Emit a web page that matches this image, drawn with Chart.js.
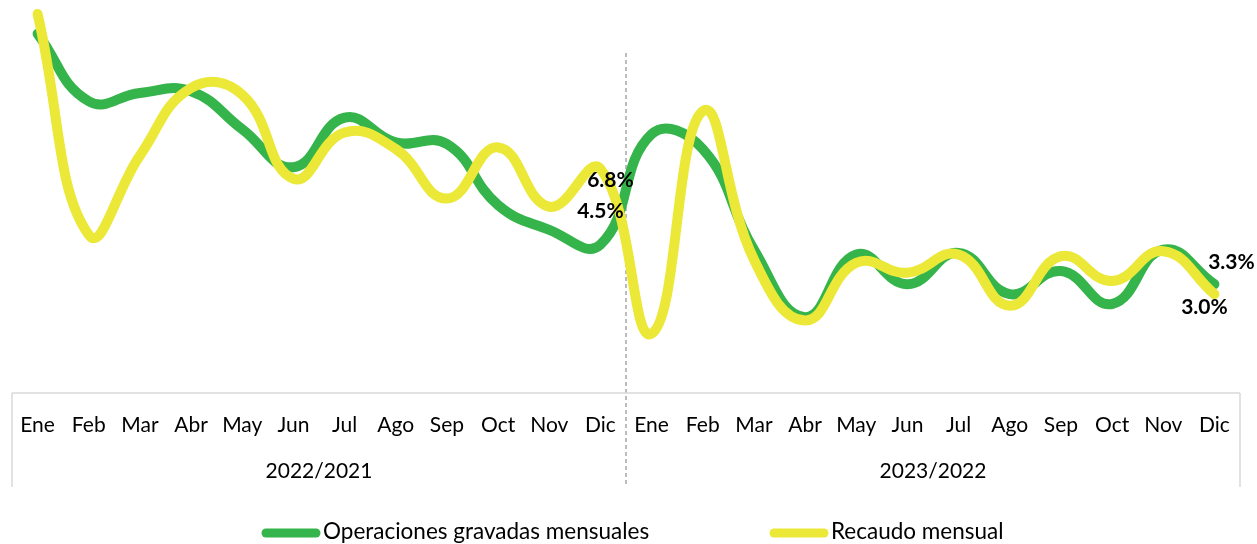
<!DOCTYPE html>
<html>
<head>
<meta charset="utf-8">
<script src="https://cdn.jsdelivr.net/npm/chart.js@4"></script>
<style>
  body { margin: 0; background: #fff; }
  canvas { display: block; }
</style>
</head>
<body>
<canvas id="recaudoChart" width="1257" height="544"></canvas>
<script>
// Meses y periodos del eje horizontal
const months = ['Ene', 'Feb', 'Mar', 'Abr', 'May', 'Jun', 'Jul', 'Ago', 'Sep', 'Oct', 'Nov', 'Dic'];
const periods = ['2022/2021', '2023/2022'];

// Variación anual (%) de cada serie
const operaciones = [10.9, 8.85, 9.1, 9.15, 8.0, 6.85, 8.35, 7.6, 7.55, 5.7, 4.95, 4.5,
                     7.85, 7.4, 4.35, 2.3, 4.2, 3.3, 4.25, 3.0, 3.7, 2.7, 4.35, 3.3];
const recaudo = [11.5, 4.8, 7.2, 9.25, 9.05, 6.5, 7.9, 7.4, 5.9, 7.45, 5.65, 6.8,
                 1.8, 8.55, 4.05, 2.2, 3.95, 3.65, 4.2, 2.65, 4.15, 3.4, 4.3, 3.0];

// Puntos que llevan etiqueta de valor
const labeledPoints = [11, 23];

const labels = [];
periods.forEach(p => months.forEach(m => labels.push(m + ' ' + p)));

const GREEN = '#34b44a';
const YELLOW = '#ebe838';
const FONT = 'Lato, "Open Sans", sans-serif';

// Eje de dos niveles, separador punteado, etiquetas y leyenda
const decorations = {
    id: 'decorations',
    beforeDatasetsDraw(chart) {
        const ctx = chart.ctx;
        const area = chart.chartArea;
        const x = chart.scales.x;
        const mid = (x.getPixelForValue(11) + x.getPixelForValue(12)) / 2;
        ctx.save();
        ctx.strokeStyle = '#a6a6a6';
        ctx.lineWidth = 1.5;
        ctx.setLineDash([4, 3]);
        ctx.beginPath();
        ctx.moveTo(mid, 53);
        ctx.lineTo(mid, area.bottom + 94);
        ctx.stroke();
        ctx.restore();
    },
    afterDraw(chart) {
        const ctx = chart.ctx;
        const area = chart.chartArea;
        const x = chart.scales.x;
        const y = chart.scales.y;
        const mid = (x.getPixelForValue(11) + x.getPixelForValue(12)) / 2;
        const boxBottom = area.bottom + 94;

        ctx.save();
        ctx.strokeStyle = '#d9d9d9';
        ctx.lineWidth = 1.5;
        ctx.beginPath();
        ctx.moveTo(area.left, area.bottom);
        ctx.lineTo(area.right, area.bottom);
        [area.left, area.right].forEach(px => {
            ctx.moveTo(px, area.bottom);
            ctx.lineTo(px, boxBottom);
        });
        ctx.stroke();

        ctx.fillStyle = '#000';
        ctx.font = '21px ' + FONT;
        ctx.textAlign = 'center';
        ctx.textBaseline = 'middle';
        labels.forEach((l, i) => {
            ctx.fillText(months[i % 12], x.getPixelForValue(i), area.bottom + 32);
        });
        ctx.fillText(periods[0], (area.left + mid) / 2, area.bottom + 78);
        ctx.fillText(periods[1], (mid + area.right) / 2, area.bottom + 78);

        // Etiquetas de valor
        ctx.font = 'bold 21px ' + FONT;
        const fmt = v => v.toFixed(1) + '%';
        labeledPoints.forEach(i => {
            const px = x.getPixelForValue(i);
            const gy = y.getPixelForValue(operaciones[i]);
            const yy = y.getPixelForValue(recaudo[i]);
            if (i === 11) {
                ctx.fillText(fmt(operaciones[i]), px, gy - 33);
                ctx.fillText(fmt(recaudo[i]), px + 10, yy + 11);
            } else {
                ctx.fillText(fmt(operaciones[i]), px + 17, gy - 22);
                ctx.fillText(fmt(recaudo[i]), px - 10, yy + 13);
            }
        });

        // Leyenda
        ctx.font = '22.5px ' + FONT;
        ctx.textAlign = 'left';
        ctx.lineCap = 'round';
        ctx.lineWidth = 9;
        const legend = [[262, 0], [770, 1]];
        legend.forEach(([lx, di]) => {
            const ds = chart.data.datasets[di];
            ctx.strokeStyle = ds.borderColor;
            ctx.beginPath();
            ctx.moveTo(lx + 4, 533);
            ctx.lineTo(lx + 54, 533);
            ctx.stroke();
            ctx.fillStyle = '#000';
            ctx.fillText(ds.label, lx + 61, 532);
        });
        ctx.restore();
    }
};

new Chart(document.getElementById('recaudoChart'), {
    type: 'line',
    data: {
        labels: labels,
        datasets: [
            {
                label: 'Operaciones gravadas mensuales',
                data: operaciones,
                borderColor: GREEN,
                borderWidth: 10,
                order: 1
            },
            {
                label: 'Recaudo mensual',
                data: recaudo,
                borderColor: YELLOW,
                borderWidth: 10,
                order: 0
            }
        ]
    },
    options: {
        responsive: false,
        animation: false,
        layout: { padding: { left: 12, right: 17, top: 4, bottom: 151 } },
        elements: {
            line: { tension: 0.45, borderCapStyle: 'round', borderJoinStyle: 'round', fill: false },
            point: { radius: 0, hoverRadius: 0 }
        },
        datasets: { line: { clip: false } },
        scales: {
            x: { type: 'category', offset: true, display: false },
            y: { min: 0, max: 11.8, display: false }
        },
        plugins: {
            legend: { display: false },
            tooltip: { enabled: false }
        }
    },
    plugins: [decorations]
});
</script>
</body>
</html>
